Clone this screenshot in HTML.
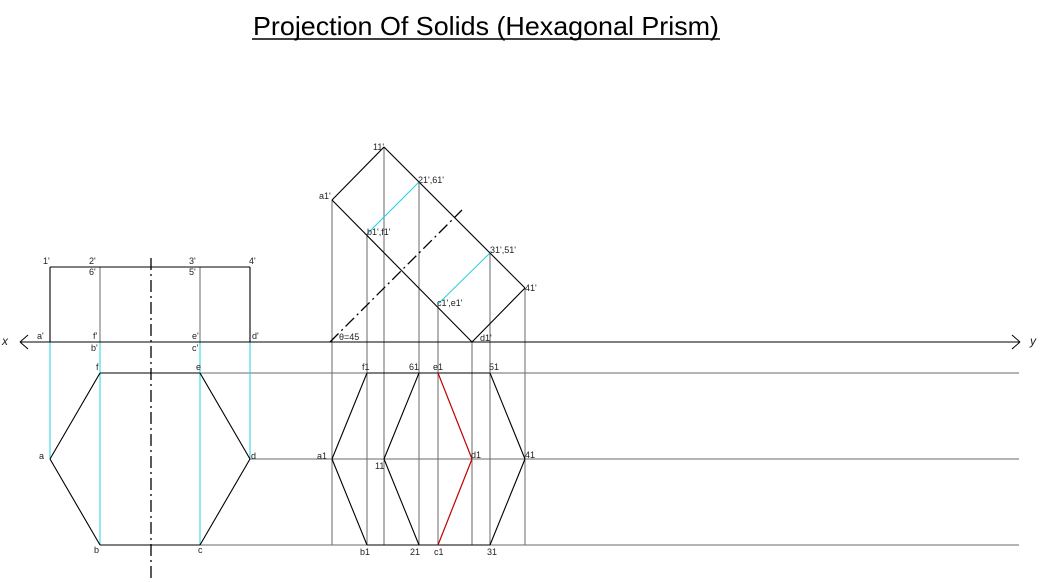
<!DOCTYPE html>
<html><head><meta charset="utf-8"><style>
html,body{margin:0;padding:0;background:#fff;}
svg{display:block;}
text{font-family:"Liberation Sans",sans-serif;font-size:9px;fill:#222;}
</style></head><body>
<svg id="s" width="1063" height="582" viewBox="0 0 1063 582">
<text x="486" y="35" text-anchor="middle" textLength="466" lengthAdjust="spacingAndGlyphs" style="font-size:26px;fill:#000">Projection Of Solids (Hexagonal Prism)</text>
<line x1="252" y1="39" x2="720" y2="39" stroke="#000" stroke-width="1.5"/>
<g id="g"></g>
</svg>
<script>
const NS='http://www.w3.org/2000/svg';
const g=document.getElementById('g');
// projector lines (grey) and construction lines: [x1,y1,x2,y2]
const greyLines=[[100,267,100,342],[200,267,200,342],[200,373,1019,373],[250,459,1019,459],[200,545,1019,545],
[332,200,332,545],[367,234,367,545],[384,147,384,545],[419,182,419,545],[438,304,438,545],[472,342,472,545],[490,253,490,545],[525,288,525,545]];
const cyanLines=[[50,342,50,459],[100,342,100,545],[200,342,200,545],[250,342,250,459],[367,234,419,182],[438,304,490,253]];
const blackLines=[[20,342,1020,342],[50,267,250,267],[50,267,50,342],[250,267,250,342],
[50,459,100,373],[100,373,200,373],[200,373,250,459],[250,459,200,545],[200,545,100,545],[100,545,50,459],
[332,200,384,147],[384,147,525,288],[525,288,472,342],[472,342,332,200],
[332,459,367,373],[367,373,490,373],[490,373,525,459],[525,459,490,545],[490,545,367,545],[367,545,332,459],
[384,459,419,373],[384,459,419,545]];
const redLines=[[438,373,472,459],[472,459,438,545]];
const labels=[['1\'',43,264],['2\'',89,264],['6\'',89,275],['3\'',189,264],['5\'',189,275],['4\'',249,264],
['a\'',37,339],['f\'',93,339],['b\'',91,351],['e\'',192,339],['c\'',192,351],['d\'',252,339],
['f',96,370],['e',196,370],['a',39,459],['d',251,459],['b',94,553],['c',198,553],
['11\'',373,150],['a1\'',319,199],['21\',61\'',418,183],['b1\',f1\'',367,235],['31\',51\'',490,253],['41\'',525,291],['c1\',e1\'',437,306],['d1\'',480,341],['θ=45',339,340],
['f1',362,370],['61',409,370],['e1',433,370],['51',489,370],['a1',317,459],['11',375,469],['d1',471,458],['41',525,458],
['b1',360,555],['21',410,555],['c1',434,555],['31',487,555]];
function ln(a,c,w,name,dash){const e=document.createElementNS(NS,'line');
e.setAttribute('x1',a[0]);e.setAttribute('y1',a[1]);e.setAttribute('x2',a[2]);e.setAttribute('y2',a[3]);
e.setAttribute('stroke',c);e.setAttribute('stroke-width',w);if(dash)e.setAttribute('stroke-dasharray',dash);


g.appendChild(e);}
greyLines.forEach(l=>ln(l,'#6a6a6a',1,'projector-line'));
cyanLines.forEach(l=>ln(l,'#22d0e0',1,'hidden-edge-line'));
blackLines.forEach(l=>ln(l,'#000',1.1,'object-edge'));
redLines.forEach(l=>ln(l,'#c00000',1.2,'visible-edge-red'));
ln([151,258,151,578],'#000',1.3,'center-line','12,4,2,4');
ln([330,342,462,210],'#000',1.3,'axis-center-line','12,4,2,4');
ln([20,342,28,335],'#000',1,'x-arrow');ln([20,342,28,349],'#000',1,'x-arrow');
ln([1020,342,1012,335],'#000',1,'y-arrow');ln([1020,342,1012,349],'#000',1,'y-arrow');
labels.forEach(t=>{const e=document.createElementNS(NS,'text');e.setAttribute('x',t[1]);e.setAttribute('y',t[2]);e.textContent=t[0];


g.appendChild(e);});
[['x',2,345],['y',1030,345]].forEach(t=>{const e=document.createElementNS(NS,'text');e.setAttribute('x',t[1]);e.setAttribute('y',t[2]);e.setAttribute('style','font-size:12px;font-style:italic');e.textContent=t[0];


g.appendChild(e);});
</script>
</body></html>
